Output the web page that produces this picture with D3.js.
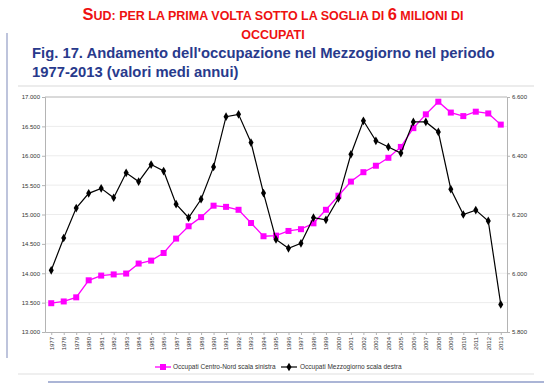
<!DOCTYPE html>
<html>
<head>
<meta charset="utf-8">
<script src="https://cdn.jsdelivr.net/npm/d3@7"></script>
<style>
  body { margin: 0; background: #fff; }
  svg { display: block; font-family: "Liberation Sans", Arial, sans-serif; }
</style>
</head>
<body>
<svg width="553" height="388"></svg>
<script>
// anni e valori (migliaia di occupati, medie annue)
var years = d3.range(1977, 2014);
var centroNord = [13490, 13520, 13590, 13880, 13960, 13980, 13995, 14165, 14215, 14345,
  14590, 14800, 14955, 15150, 15130, 15080, 14855, 14630, 14640, 14720,
  14750, 14850, 15080, 15320, 15560, 15720, 15830, 15965, 16150, 16470,
  16705, 16920, 16735, 16675, 16750, 16720, 16530];
var mezzogiorno = [6010, 6120, 6222, 6272, 6289, 6257, 6342, 6312, 6370, 6348,
  6235, 6189, 6252, 6362, 6533, 6541, 6445, 6273, 6115, 6085,
  6102, 6189, 6182, 6255, 6405, 6519, 6451, 6430, 6409, 6515,
  6515, 6481, 6286, 6200, 6215, 6178, 5894];
var leftTicks = d3.range(13000, 17001, 500);
var rightTicks = d3.range(5800, 6601, 200);
var seriesNames = ["Occupati Centro-Nord scala sinistra", "Occupati Mezzogiorno scala destra"];

var svg = d3.select("svg");
var plotLeft = 45, plotRight = 507, plotTop = 97, plotBottom = 332;
var itFmt = d3.formatLocale({decimal: ",", thousands: ".", grouping: [3], currency: ["", "€"]}).format(",.0f");

// cornice della slide
svg.append("line").attr("x1", 7).attr("x2", 7).attr("y1", 33).attr("y2", 358)
  .attr("stroke", "#a9b0d0").attr("stroke-width", 1.5);
svg.append("line").attr("x1", 18).attr("x2", 534).attr("y1", 86).attr("y2", 86)
  .attr("stroke", "#d9d9d9").attr("stroke-width", 1.2);
svg.append("line").attr("x1", 18).attr("x2", 534).attr("y1", 374).attr("y2", 374)
  .attr("stroke", "#e0e0e0").attr("stroke-width", 1.2);
svg.append("line").attr("x1", 48).attr("x2", 544).attr("y1", 382).attr("y2", 382)
  .attr("stroke", "#8f9cc9").attr("stroke-width", 1.5);

// titolo rosso in maiuscoletto
var t1 = svg.append("text").attr("x", 273).attr("y", 20).attr("text-anchor", "middle")
  .attr("fill", "#ee1111").attr("font-size", 12.5).attr("font-weight", "bold");
t1.append("tspan").attr("font-size", 16.5).text("S");
t1.append("tspan").text("UD: PER LA PRIMA VOLTA SOTTO LA SOGLIA DI ");
t1.append("tspan").attr("font-size", 16.5).text("6");
t1.append("tspan").text(" MILIONI DI");
svg.append("text").attr("x", 273).attr("y", 39).attr("text-anchor", "middle")
  .attr("fill", "#ee1111").attr("font-size", 12.5).attr("font-weight", "bold").text("OCCUPATI");

svg.append("text").attr("x", 32).attr("y", 58).attr("fill", "#283a8c")
  .attr("font-size", 14.8).attr("font-weight", "bold")
  .text("Fig. 17. Andamento dell'occupazione nel Mezzogiorno nel periodo");
svg.append("text").attr("x", 32).attr("y", 77).attr("fill", "#283a8c")
  .attr("font-size", 14.8).attr("font-weight", "bold")
  .text("1977-2013 (valori medi annui)");

var x = d3.scalePoint().domain(years).range([plotLeft, plotRight]).padding(0.5);
var yL = d3.scaleLinear().domain([13000, 17000]).range([plotBottom, plotTop]);
var yR = d3.scaleLinear().domain([5800, 6600]).range([plotBottom, plotTop]);

// griglia
svg.append("g").selectAll("line").data(leftTicks.slice(1, -1)).enter().append("line")
  .attr("x1", plotLeft).attr("x2", plotRight)
  .attr("y1", function(d) { return yL(d); }).attr("y2", function(d) { return yL(d); })
  .attr("stroke", "#ececec");
svg.append("line").attr("x1", plotLeft).attr("x2", plotRight).attr("y1", plotTop).attr("y2", plotTop)
  .attr("stroke", "#b4b4b4");

var axL = svg.append("g").attr("transform", "translate(" + plotLeft + ",0)")
  .call(d3.axisLeft(yL).tickValues(leftTicks).tickFormat(itFmt).tickSize(3).tickPadding(2));
var axR = svg.append("g").attr("transform", "translate(" + plotRight + ",0)")
  .call(d3.axisRight(yR).tickValues(rightTicks).tickFormat(itFmt).tickSize(3).tickPadding(2));
var axX = svg.append("g").attr("transform", "translate(0," + plotBottom + ")")
  .call(d3.axisBottom(x).tickSize(3).tickSizeOuter(0));
axX.selectAll("text").attr("transform", "rotate(-90)").attr("text-anchor", "end")
  .attr("x", -5).attr("y", 0).attr("dy", "0.32em");

[axL, axR, axX].forEach(function(g) {
  g.selectAll(".domain").attr("stroke", "#b4b4b4");
  g.selectAll(".tick line").attr("stroke", "#b4b4b4");
  g.selectAll("text").attr("font-size", 6).attr("fill", "#333")
    .attr("font-family", "Liberation Sans, Arial, sans-serif");
});

// serie
var lineL = d3.line().x(function(d, i) { return x(years[i]); }).y(function(d) { return yL(d); });
var lineR = d3.line().x(function(d, i) { return x(years[i]); }).y(function(d) { return yR(d); });

svg.append("path").datum(centroNord).attr("d", lineL)
  .attr("fill", "none").attr("stroke", "#ff00ff").attr("stroke-width", 1.3);
svg.append("g").selectAll("rect").data(centroNord).enter().append("rect")
  .attr("x", function(d, i) { return x(years[i]) - 3; })
  .attr("y", function(d) { return yL(d) - 3; })
  .attr("width", 6).attr("height", 6).attr("fill", "#ff00ff");

svg.append("path").datum(mezzogiorno).attr("d", lineR)
  .attr("fill", "none").attr("stroke", "#000").attr("stroke-width", 1.2);
var diamond = d3.symbol().type(d3.symbolDiamond).size(22);
svg.append("g").selectAll("path").data(mezzogiorno).enter().append("path")
  .attr("d", diamond)
  .attr("transform", function(d, i) { return "translate(" + x(years[i]) + "," + yR(d) + ")"; })
  .attr("fill", "#000");

// legenda
var legend = svg.append("g").attr("transform", "translate(0,367)");
legend.append("line").attr("x1", 155).attr("x2", 171).attr("stroke", "#ff00ff").attr("stroke-width", 1.3);
legend.append("rect").attr("x", 160).attr("y", -3).attr("width", 6).attr("height", 6).attr("fill", "#ff00ff");
legend.append("text").attr("x", 173).attr("dy", "0.33em").attr("font-size", 6.5).attr("fill", "#333")
  .text(seriesNames[0]);
legend.append("line").attr("x1", 281).attr("x2", 297).attr("stroke", "#000").attr("stroke-width", 1.2);
legend.append("path").attr("d", diamond).attr("transform", "translate(289,0)").attr("fill", "#000");
legend.append("text").attr("x", 300).attr("dy", "0.33em").attr("font-size", 6.5).attr("fill", "#333")
  .text(seriesNames[1]);
</script>
</body>
</html>
